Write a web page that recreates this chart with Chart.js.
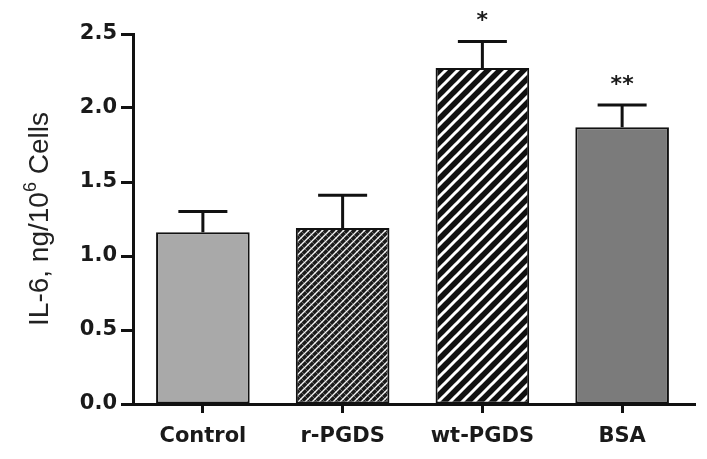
<!DOCTYPE html>
<html>
<head>
<meta charset="utf-8">
<script src="https://cdn.jsdelivr.net/npm/chart.js@4.4.1/dist/chart.umd.min.js"></script>
<style>
    html, body { margin: 0; padding: 0; background: #fff; }
    #wrap { width: 707px; height: 459px; }
</style>
</head>
<body>
<div id="wrap"><canvas id="il6Chart" width="707" height="459"></canvas></div>
<script>
// values
const groups = ['Control', 'r-PGDS', 'wt-PGDS', 'BSA'];
const meanIL6 = [1.16, 1.19, 2.27, 1.87];
const errIL6 = [0.14, 0.22, 0.18, 0.15];
const sigMarks = ['', '', '*', '**'];
const yTicks = [0, 0.5, 1.0, 1.5, 2.0, 2.5];

// hatch fills
function stripePattern(){
    const c = document.createElement('canvas');
    c.width = 12; c.height = 12;
    const g = c.getContext('2d');
    g.fillStyle = '#111';
    g.fillRect(0, 0, 12, 12);
    g.strokeStyle = '#fff';
    g.lineWidth = 3;
    g.beginPath();
    g.moveTo(-6, 6); g.lineTo(6, -6);
    g.moveTo(0, 12); g.lineTo(12, 0);
    g.moveTo(6, 18); g.lineTo(18, 6);
    g.stroke();
    return g.createPattern(c, 'repeat');
}

function crossPattern(){
    const c = document.createElement('canvas');
    c.width = 7; c.height = 7;
    const g = c.getContext('2d');
    g.fillStyle = '#1c1c1c';
    g.fillRect(0, 0, 7, 7);
    g.strokeStyle = '#777';
    g.lineWidth = 0.8;
    g.beginPath();
    g.moveTo(0, 0); g.lineTo(7, 7);
    g.stroke();
    g.strokeStyle = '#f4f4f4';
    g.lineWidth = 1.4;
    g.beginPath();
    g.moveTo(-3.5, 3.5); g.lineTo(3.5, -3.5);
    g.moveTo(0, 7); g.lineTo(7, 0);
    g.moveTo(3.5, 10.5); g.lineTo(10.5, 3.5);
    g.stroke();
    return g.createPattern(c, 'repeat');
}

const fills = ['#a9a9a9', crossPattern(), stripePattern(), '#7b7b7b'];

// error bars + asterisks
const errorBarPlugin = {
    id: 'errorBars',
    afterDatasetsDraw(chart){
        const ctx = chart.ctx;
        const meta = chart.getDatasetMeta(0);
        const y = chart.scales.y;
        ctx.save();
        ctx.strokeStyle = '#111';
        ctx.lineWidth = 3;
        meta.data.forEach((bar, i) => {
            const top = y.getPixelForValue(meanIL6[i] + errIL6[i]);
            const base = y.getPixelForValue(meanIL6[i]);
            ctx.beginPath();
            ctx.moveTo(bar.x, base);
            ctx.lineTo(bar.x, top);
            ctx.moveTo(bar.x - 24.5, top);
            ctx.lineTo(bar.x + 24.5, top);
            ctx.stroke();
            if(sigMarks[i]){
                ctx.fillStyle = '#1a1a1a';
                ctx.font = 'bold 22px "DejaVu Sans"';
                ctx.textAlign = 'center';
                ctx.textBaseline = 'middle';
                ctx.fillText(sigMarks[i], bar.x, top - 20);
            }
        });
        // x axis line, running a little past the last bar
        const area = chart.chartArea;
        ctx.beginPath();
        ctx.moveTo(area.left - 1.5, area.bottom + 0.5);
        ctx.lineTo(area.right + 4, area.bottom + 0.5);
        ctx.stroke();
        ctx.restore();
    }
};

// y title with a superscript 6
const yTitlePlugin = {
    id: 'yTitle',
    afterDraw(chart){
        const ctx = chart.ctx;
        const area = chart.chartArea;
        const parts = [['IL-6, ng/10', 0], ['6', 1], [' Cells', 0]];
        const big = '28px "Liberation Sans", Arial, sans-serif';
        const small = '18px "Liberation Sans", Arial, sans-serif';
        ctx.save();
        let total = 0;
        parts.forEach(p => { ctx.font = p[1] ? small : big; total += ctx.measureText(p[0]).width; });
        ctx.translate(48, (area.top + area.bottom) / 2);
        ctx.rotate(-Math.PI / 2);
        ctx.fillStyle = '#222';
        ctx.textBaseline = 'alphabetic';
        let x = -total / 2;
        parts.forEach(p => {
            ctx.font = p[1] ? small : big;
            ctx.fillText(p[0], x, p[1] ? -12 : 0);
            x += ctx.measureText(p[0]).width;
        });
        ctx.restore();
    }
};

const ctx = document.getElementById('il6Chart').getContext('2d');
new Chart(ctx, {
    type: 'bar',
    data: {
        labels: groups,
        datasets: [{
            data: meanIL6,
            backgroundColor: fills,
            borderColor: '#111',
            borderWidth: 2,
            borderSkipped: false,
            categoryPercentage: 1,
            barPercentage: 0.67
        }]
    },
    options: {
        responsive: false,
        animation: false,
        layout: { padding: { top: 34, right: 15, left: 0, bottom: 0 } },
        plugins: {
            legend: { display: false },
            tooltip: { enabled: false }
        },
        scales: {
            x: {
                offset: true,
                grid: {
                    display: true,
                    offset: false,
                    drawOnChartArea: false,
                    drawTicks: true,
                    tickLength: 9,
                    tickWidth: 3,
                    tickColor: '#111'
                },
                border: { display: false },
                ticks: {
                    color: '#1a1a1a',
                    padding: 11,
                    font: { family: 'DejaVu Sans', size: 21, weight: 'bold' }
                },
                afterFit: (s) => { s.height = 55; }
            },
            y: {
                min: 0,
                max: 2.5,
                afterBuildTicks: (s) => { s.ticks = yTicks.map(v => ({ value: v })); },
                grid: {
                    display: true,
                    drawOnChartArea: false,
                    drawTicks: true,
                    tickLength: 12,
                    tickWidth: 3,
                    tickColor: '#111'
                },
                border: { display: true, color: '#111', width: 3 },
                ticks: {
                    color: '#1a1a1a',
                    padding: 4,
                    font: { family: 'DejaVu Sans', size: 21, weight: 'bold' },
                    callback: (v) => Number(v).toFixed(1)
                },
                afterFit: (s) => { s.width = 133; }
            }
        }
    },
    plugins: [errorBarPlugin, yTitlePlugin]
});
</script>
</body>
</html>
